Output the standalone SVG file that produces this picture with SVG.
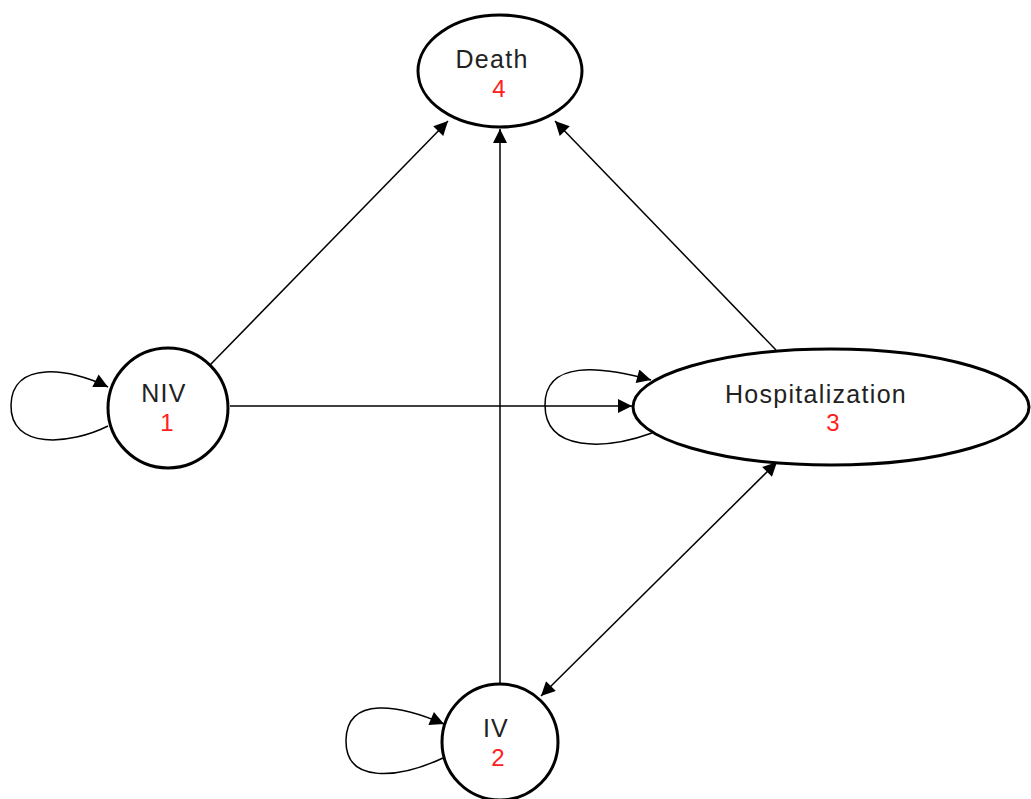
<svg xmlns="http://www.w3.org/2000/svg" width="1031" height="799" viewBox="0 0 1031 799">
  <style>
    .node { fill: #fff; stroke: #000; stroke-width: 3; }
    .edge { fill: none; stroke: #000; stroke-width: 1.5; }
    .lbl { font-family: "Liberation Sans", Arial, sans-serif; font-size: 25px; letter-spacing: 1.3px; fill: #222; text-anchor: middle; }
    .num { font-family: "Liberation Sans", Arial, sans-serif; font-size: 24px; fill: #ff2020; text-anchor: middle; }
  </style>
  <defs>
    <marker id="arrowBig" viewBox="0 0 10 10" refX="10" refY="5" markerWidth="16" markerHeight="14" markerUnits="userSpaceOnUse" orient="auto-start-reverse">
      <path d="M0,0 L10,5 L0,10 z" fill="#000"/>
    </marker>
  </defs>

  <g id="connectors">
    <!-- NIV to Death -->
    <path class="edge" d="M210,365 L448,121" marker-end="url(#arrowBig)"/>
    <!-- IV to Death -->
    <path class="edge" d="M500,685 L500,129" marker-end="url(#arrowBig)"/>
    <!-- Hospitalization to Death -->
    <path class="edge" d="M776,350 L555,121" marker-end="url(#arrowBig)"/>
    <!-- NIV to Hospitalization -->
    <path class="edge" d="M230,406 L632,406" marker-end="url(#arrowBig)"/>
    <!-- Hospitalization and IV, both ways -->
    <path class="edge" d="M777,462 L541,696" marker-start="url(#arrowBig)" marker-end="url(#arrowBig)"/>
    <!-- self loops -->
    <path class="edge" d="M108,426 C70,445 10,450 11,405 C12,360 70,368 108,387" marker-end="url(#arrowBig)"/>
    <path class="edge" d="M652,433 C605,450 545,452 545,405 C545,360 600,366 651,380" marker-end="url(#arrowBig)"/>
    <path class="edge" d="M443,758 C400,778 345,785 346,740 C347,695 400,705 444,724" marker-end="url(#arrowBig)"/>
  </g>

  <g id="node-death">
    <ellipse class="node" cx="500" cy="71" rx="82" ry="56"/>
    <text class="lbl" x="492" y="68">Death</text>
    <text class="num" x="499" y="97">4</text>
  </g>

  <g id="node-niv">
    <circle class="node" cx="168" cy="408" r="60"/>
    <text class="lbl" x="164" y="402">NIV</text>
    <text class="num" x="167" y="431">1</text>
  </g>

  <g id="node-hospitalization">
    <ellipse class="node" cx="831" cy="407" rx="198" ry="58"/>
    <text class="lbl" x="816" y="403">Hospitalization</text>
    <text class="num" x="833" y="431">3</text>
  </g>

  <g id="node-iv">
    <circle class="node" cx="500" cy="742" r="58"/>
    <text class="lbl" x="496" y="737">IV</text>
    <text class="num" x="498" y="766">2</text>
  </g>
</svg>
